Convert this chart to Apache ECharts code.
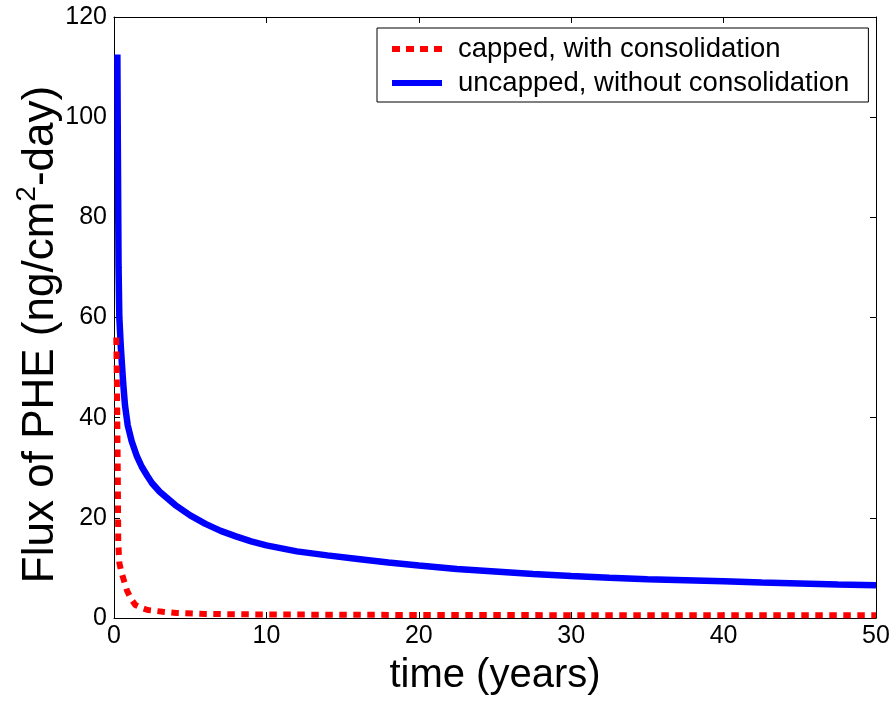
<!DOCTYPE html>
<html>
<head>
<meta charset="utf-8">
<script src="https://cdn.jsdelivr.net/npm/echarts@6/dist/echarts.min.js"></script>
<style>html,body{margin:0;padding:0;background:#fff}#c{width:896px;height:703px}</style>
</head>
<body>
<div id="c"></div>
<script>
// ---- data ----
var xTicks = [0, 10, 20, 30, 40, 50];
var yTicks = [0, 20, 40, 60, 80, 100, 120];
var seriesNames = ['capped, with consolidation', 'uncapped, without consolidation'];

var uncappedT = [0.22, 0.25, 0.3, 0.35, 0.45, 0.6, 0.72, 0.9, 1.16, 1.5, 1.82, 2.2, 2.5, 3, 3.5, 4, 5, 6, 7, 8, 9, 10, 12, 14, 16, 18, 20, 22.5, 25, 27.5, 30, 32.5, 35, 37.5, 40, 42.5, 45, 47.5, 50];
var uncappedV = [112.5, 95, 70, 60, 54, 47, 42.5, 38.5, 35.3, 32.3, 30.2, 28.3, 26.9, 25.2, 23.9, 22.6, 20.5, 18.8, 17.4, 16.3, 15.3, 14.5, 13.3, 12.5, 11.8, 11.1, 10.5, 9.8, 9.3, 8.8, 8.4, 8.05, 7.75, 7.55, 7.35, 7.1, 6.9, 6.7, 6.55];

var cappedT = [0.15, 0.2, 0.25, 0.28, 0.35, 0.5, 0.65, 0.85, 1.1, 1.4, 1.8, 2.2, 3.2, 4.1, 6, 10, 20, 35, 50];
var cappedV = [56, 45, 28, 15, 11, 9, 7.5, 5.5, 3.9, 2.6, 2.0, 1.6, 1.25, 1.0, 0.8, 0.7, 0.6, 0.55, 0.55];

function zip(a, b) { return a.map(function (v, i) { return [v, b[i]]; }); }

var FONT = '"Liberation Sans", Arial, Helvetica, sans-serif';
var chart = echarts.init(document.getElementById('c'), null, { renderer: 'canvas' });

var axisBase = {
  axisLine: { show: true, onZero: false, lineStyle: { color: '#000', width: 1 } },
  axisTick: { show: true, inside: true, length: 6, lineStyle: { color: '#000', width: 1 } },
  splitLine: { show: false }
};

var dashIcon = 'path://M0,0h8v6h-8z M14,0h8v6h-8z M28,0h8v6h-8z M42,0h8v6h-8z';
var solidIcon = 'path://M0,0h50v6h-50z';

chart.setOption({
  backgroundColor: '#fff',
  animation: false,
  grid: { left: 114, top: 17, width: 762, height: 601, containLabel: false, outerBoundsMode: 'none' },
  legend: {
    left: 377, top: 28,
    orient: 'vertical',
    padding: [7, 19, 5, 15],
    itemGap: 6,
    itemWidth: 50, itemHeight: 6,
    backgroundColor: '#fff',
    borderColor: '#000', borderWidth: 1, borderRadius: 0,
    textStyle: { fontFamily: FONT, fontSize: 27.5, color: '#000', padding: [0, 0, 0, 11] },
    data: [
      { name: seriesNames[0], icon: dashIcon, itemStyle: { color: '#ff0000' } },
      { name: seriesNames[1], icon: solidIcon, itemStyle: { color: '#0000ff' } }
    ]
  },
  xAxis: [
    Object.assign({}, axisBase, {
      type: 'value', position: 'bottom', min: 0, max: 50, interval: 10,
      axisLabel: { show: true, margin: 6, fontFamily: FONT, fontSize: 25, color: '#000',
        formatter: function (v) { return xTicks.indexOf(v) >= 0 ? String(v) : ''; } },
      name: 'time (years)', nameLocation: 'middle', nameGap: 38,
      nameTextStyle: { fontFamily: FONT, fontSize: 40, color: '#000' }
    }),
    Object.assign({}, axisBase, {
      type: 'value', position: 'top', min: 0, max: 50, interval: 10,
      axisLabel: { show: false }
    })
  ],
  yAxis: [
    Object.assign({}, axisBase, {
      type: 'value', position: 'left', min: 0, max: 120, interval: 20,
      axisLabel: { show: true, margin: 7, fontFamily: FONT, fontSize: 25, color: '#000',
        formatter: function (v) { return yTicks.indexOf(v) >= 0 ? String(v) : ''; } },
      name: 'Flux of PHE (ng/cm{sup|2}-day)', nameLocation: 'middle', nameRotate: 90, nameGap: 49,
      nameMoveOverlap: false,
      nameTextStyle: { fontFamily: FONT, fontSize: 44, color: '#000', lineHeight: 48,
        padding: [0, 34, 0, 0],
        rich: { sup: { fontFamily: FONT, fontSize: 28, color: '#000', padding: [0, 0, 28, 0] } } }
    }),
    Object.assign({}, axisBase, {
      type: 'value', position: 'right', min: 0, max: 120, interval: 20,
      axisLabel: { show: false }
    })
  ],
  series: [
    {
      name: seriesNames[0], type: 'line', xAxisIndex: 0, yAxisIndex: 0,
      data: zip(cappedT, cappedV), symbol: 'none', smooth: false, z: 3,
      lineStyle: { color: '#ff0000', width: 6, type: [7.5, 6.5], cap: 'butt' },
      itemStyle: { color: '#ff0000' }
    },
    {
      name: seriesNames[1], type: 'line', xAxisIndex: 0, yAxisIndex: 0,
      data: zip(uncappedT, uncappedV), symbol: 'none', smooth: false, z: 2,
      lineStyle: { color: '#0000ff', width: 6.5, type: 'solid' },
      itemStyle: { color: '#0000ff' }
    }
  ]
});
</script>
</body>
</html>
